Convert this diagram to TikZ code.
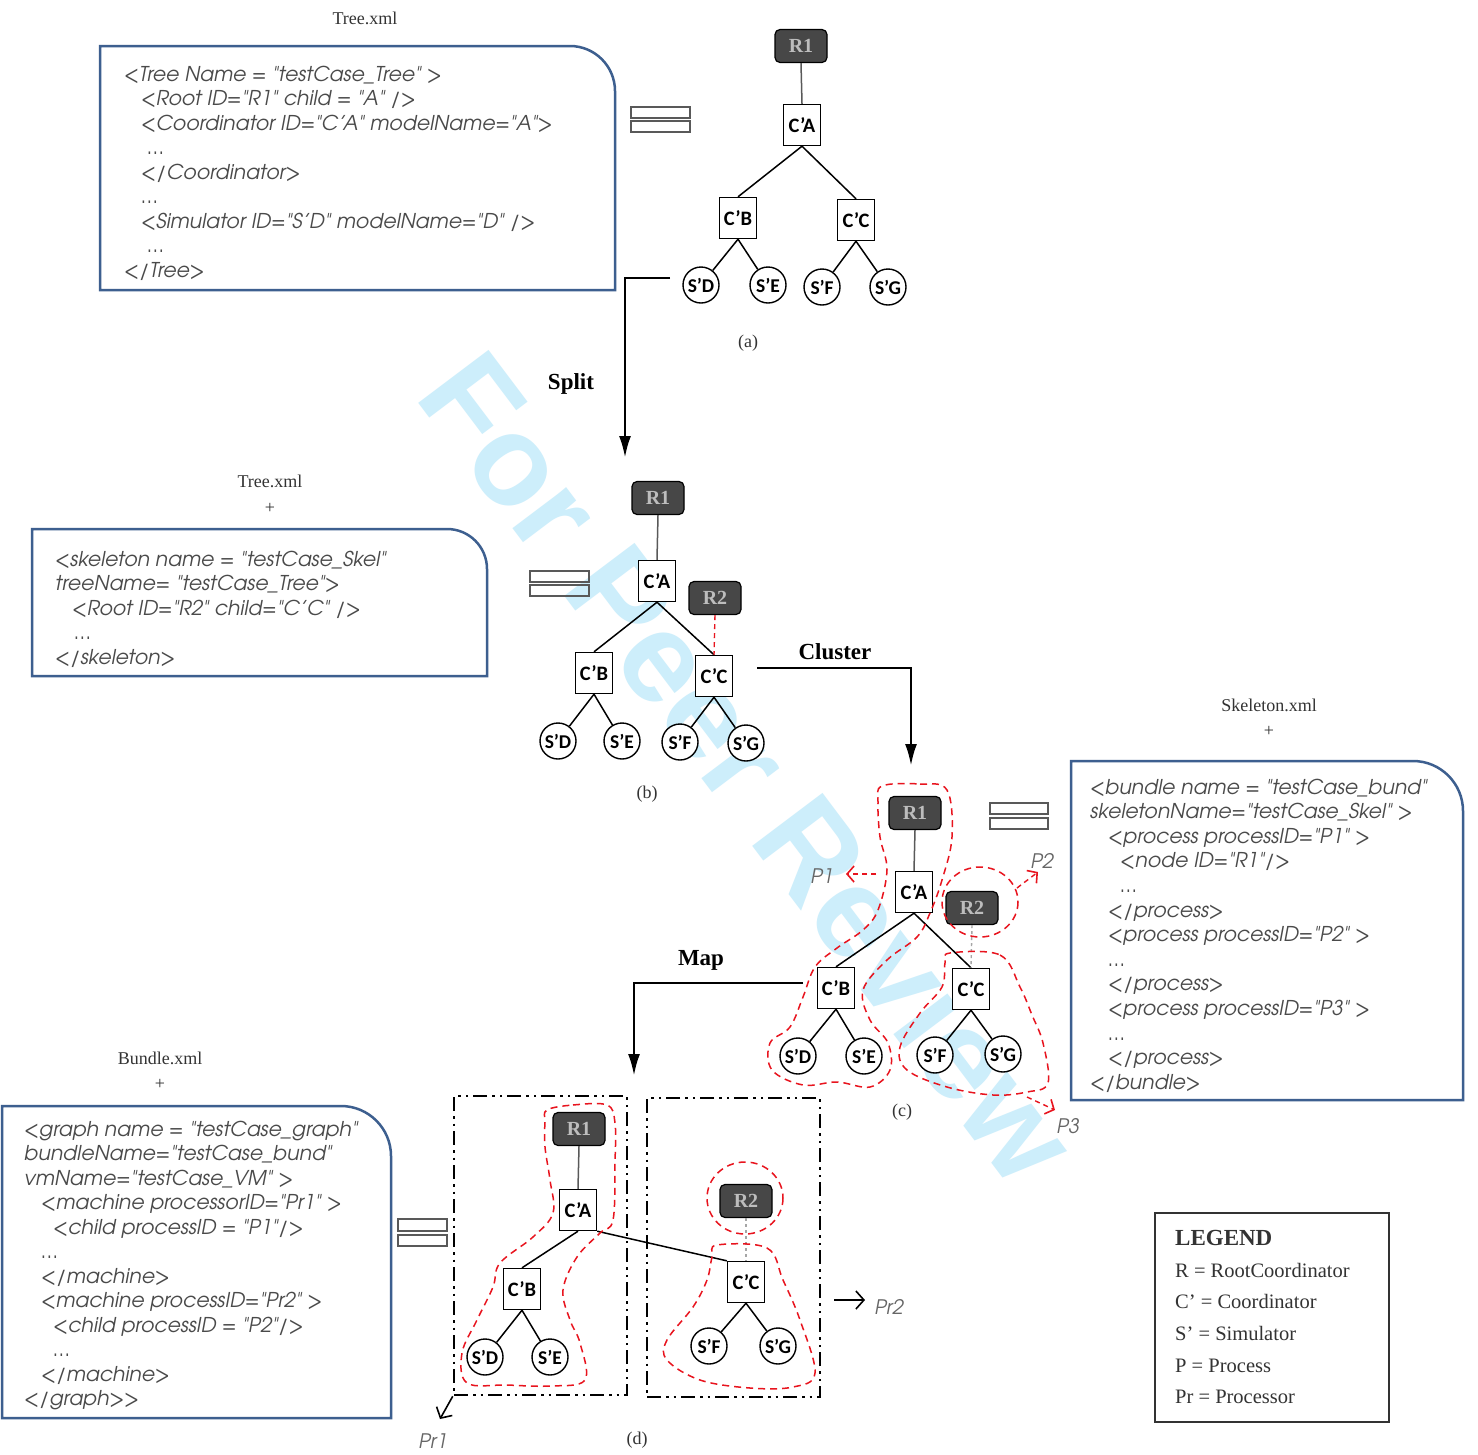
\documentclass[tikz,border=0pt]{standalone}
\usepackage{fontspec}
\setmainfont{Liberation Serif}
\newfontfamily\codefont{texgyreadventor}[Extension=.otf, UprightFont=*-regular, ItalicFont=*-italic, BoldFont=*-bold, BoldItalicFont=*-bolditalic]
\newfontfamily\nodefont{Carlito}
\newfontfamily\wmfont{Liberation Sans}
\usetikzlibrary{arrows.meta}
\definecolor{boxblue}{HTML}{3D5F8F}
\definecolor{codegray}{HTML}{4A4A4A}
\definecolor{rootfill}{HTML}{474747}
\definecolor{roottext}{HTML}{BDBDBD}
\definecolor{wmcol}{HTML}{CDEEFB}
\definecolor{pred}{HTML}{E8141E}
\definecolor{plabel}{HTML}{666666}
\definecolor{labgray}{HTML}{333333}
\newcount\clcount
\newcommand\codeln[3]{\global\advance\clcount by 1\relax
  \node[codetxt, anchor=base west] (cl\the\clcount) at (#1,#2) {#3};}
\tikzset{
  rootnode/.style={draw=black, fill=rootfill, rounded corners=5pt, minimum width=52pt, minimum height=33pt, inner sep=0pt, font=\fontsize{20}{20}\selectfont\bfseries, text=roottext, line width=1.2pt},
  coordnode/.style={draw=black, fill=white, minimum width=37pt, minimum height=41pt, inner sep=0pt, font=\nodefont\fontsize{20.5}{20.5}\selectfont\bfseries, line width=1.4pt},
  simnode/.style={circle, draw=black, fill=white, minimum size=36pt, inner sep=0pt, font=\nodefont\fontsize{19.5}{19.5}\selectfont\bfseries, line width=1.4pt},
  treeedge/.style={line width=1.5pt},
  rootedge/.style={line width=1.5pt, draw=black!65},
  gdash/.style={line width=1.4pt, draw=black!35, dashed},
  rdash/.style={line width=1.4pt, draw=pred, dash pattern=on 5pt off 4pt},
  blob/.style={line width=1.5pt, draw=pred, dash pattern=on 7pt off 5pt},
  codebox/.style={line width=2.5pt, draw=boxblue},
  codetxt/.style={inner sep=0pt, text=codegray, font=\codefont\itshape\fontsize{20.4}{20.4}\selectfont},
  serlab/.style={inner sep=0pt, text=labgray, font=\fontsize{18}{18}\selectfont},
  oplab/.style={inner sep=0pt, font=\fontsize{23}{23}\selectfont\bfseries},
  plab/.style={inner sep=0pt, text=plabel, font=\codefont\itshape\fontsize{20}{20}\selectfont},
  eqbar/.style={line width=1.6pt, draw=black!65},
  bigarrow/.style={line width=2.8pt, -{Latex[length=22pt,width=12pt]}},
  openarrow/.style={line width=1.6pt, -{Straight Barb[length=8pt,width=18pt,line width=1.6pt]}},
  procbox/.style={draw=black, line width=2.5pt, dash pattern=on 14pt off 5pt on 2.5pt off 5pt on 2.5pt off 5pt, inner sep=0pt},
  legtxt/.style={inner sep=0pt, anchor=base west, text=labgray, font=\fontsize{20.5}{20.5}\selectfont}
}
\begin{document}
\begin{tikzpicture}[x=1pt,y=-1pt]
\useasboundingbox (0,0) rectangle (1478,1454);
\fill[white] (0,0) rectangle (1478,1454);

% watermark
\node[rotate=-53, text=wmcol, inner sep=0pt, font=\wmfont\bfseries\fontsize{128}{128}\selectfont] (wmark) at (750,767) {For Peer Review};

% ---------- code box 1 ----------
\node[serlab] (lab-tree1) at (365,18) {Tree.xml};
\draw[codebox] (100,290) -- (100,46) -- (570,46) .. controls (594.8,46) and (615,66.2) .. (615,91) -- (615,290) -- cycle;
\codeln{124}{81}{<Tree Name = "testCase\_Tree" >}
\codeln{141}{105.5}{<Root ID="R1" child = "A" />}
\codeln{141}{130}{<Coordinator ID="C’A" modelName="A">}
\codeln{147}{154.5}{…}
\codeln{141}{179}{</Coordinator>}
\codeln{141}{203.5}{…}
\codeln{141}{228}{<Simulator ID="S’D" modelName="D" />}
\codeln{147}{252.5}{…}
\codeln{124}{277}{</Tree>}
\draw[eqbar] (631,107) rectangle (690,118);
\draw[eqbar] (631,121) rectangle (690,132);

% ---------- tree (a) ----------
\node[rootnode] (a-r1) at (801,46) {R1};
\node[coordnode] (a-ca) at (802,125) {C’A};
\node[coordnode] (a-cb) at (738,218) {C’B};
\node[coordnode] (a-cc) at (856,220) {C’C};
\node[simnode] (a-sd) at (701,285) {S’D};
\node[simnode] (a-se) at (768,285) {S’E};
\node[simnode] (a-sf) at (822,287) {S’F};
\node[simnode] (a-sg) at (888,287) {S’G};
\draw[rootedge] (a-r1.south) -- (a-ca.north);
\draw[treeedge] (a-ca.south) -- (a-cb.north);
\draw[treeedge] (a-ca.south) -- (a-cc.north);
\draw[treeedge] (a-cb.south) -- (a-sd);
\draw[treeedge] (a-cb.south) -- (a-se);
\draw[treeedge] (a-cc.south) -- (a-sf);
\draw[treeedge] (a-cc.south) -- (a-sg);
\node[serlab] (lab-a) at (748,343) {(a)};

% Split
\coordinate (splitA) at (670,278);
\coordinate (splitB) at (625,458);
\draw[bigarrow] (splitA) -| (splitB);
\node[oplab] (lab-split) at (571,384) {Split};

% ---------- code box 2 ----------
\node[serlab] (lab-tree2) at (270,481) {Tree.xml};
\node[serlab] (lab-plus2) at (270,508) {+};
\draw[codebox] (32,676) -- (32,529) -- (447,529) .. controls (469.1,529) and (487,546.9) .. (487,569) -- (487,676) -- cycle;
\codeln{55}{566}{<skeleton name = "testCase\_Skel"}
\codeln{55}{590.5}{treeName= "testCase\_Tree">}
\codeln{72}{615}{<Root ID="R2" child="C’C" />}
\codeln{74}{639.5}{…}
\codeln{55}{664}{</skeleton>}
\draw[eqbar] (530,571) rectangle (589,582);
\draw[eqbar] (530,585) rectangle (589,596);

% ---------- tree (b) ----------
\node[rootnode] (b-r1) at (658,498) {R1};
\node[coordnode] (b-ca) at (657,581) {C’A};
\node[rootnode] (b-r2) at (715,598) {R2};
\node[coordnode] (b-cb) at (594,673) {C’B};
\node[coordnode] (b-cc) at (714,676) {C’C};
\node[simnode] (b-sd) at (558,741) {S’D};
\node[simnode] (b-se) at (622,741) {S’E};
\node[simnode] (b-sf) at (680,742) {S’F};
\node[simnode] (b-sg) at (746,743) {S’G};
\draw[rootedge] (b-r1.south) -- (b-ca.north);
\draw[treeedge] (b-ca.south) -- (b-cb.north);
\draw[treeedge] (b-ca.south) -- (b-cc.north);
\draw[treeedge] (b-cb.south) -- (b-sd);
\draw[treeedge] (b-cb.south) -- (b-se);
\draw[treeedge] (b-cc.south) -- (b-sf);
\draw[treeedge] (b-cc.south) -- (b-sg);
\draw[rdash] (b-r2.south) -- (b-cc.north);
\node[serlab] (lab-b) at (647,794) {(b)};

% Cluster
\coordinate (clA) at (757,668);
\coordinate (clB) at (911,766);
\draw[bigarrow] (clA) -| (clB);
\node[oplab] (lab-cluster) at (835,652) {Cluster};

% ---------- code box 3 ----------
\node[serlab] (lab-skel) at (1269,705) {Skeleton.xml};
\node[serlab] (lab-plus3) at (1269,731) {+};
\draw[codebox] (1071,1100) -- (1071,761) -- (1413,761) .. controls (1440.6,761) and (1463,783.4) .. (1463,811) -- (1463,1100) -- cycle;
\codeln{1090}{794}{<bundle name = "testCase\_bund"}
\codeln{1090}{818.6}{skeletonName="testCase\_Skel" >}
\codeln{1108}{843.2}{<process processID="P1" >}
\codeln{1120}{867.8}{<node ID="R1"/>}
\codeln{1120}{892.4}{…}
\codeln{1108}{917}{</process>}
\codeln{1108}{941.6}{<process processID="P2" >}
\codeln{1108}{966.2}{…}
\codeln{1108}{990.8}{</process>}
\codeln{1108}{1015.4}{<process processID="P3" >}
\codeln{1108}{1040}{…}
\codeln{1108}{1064.6}{</process>}
\codeln{1090}{1089.2}{</bundle>}
\draw[eqbar] (990,803) rectangle (1048,814);
\draw[eqbar] (990,818) rectangle (1048,829);

% ---------- tree (c) ----------
\node[rootnode] (c-r1) at (915,813) {R1};
\node[coordnode] (c-ca) at (914,892) {C’A};
\node[rootnode] (c-r2) at (972,908) {R2};
\node[coordnode] (c-cb) at (836,988) {C’B};
\node[coordnode] (c-cc) at (971,989) {C’C};
\node[simnode] (c-sd) at (798,1056) {S’D};
\node[simnode] (c-se) at (864,1056) {S’E};
\node[simnode] (c-sf) at (935,1055) {S’F};
\node[simnode] (c-sg) at (1003,1054) {S’G};
\draw[rootedge] (c-r1.south) -- (c-ca.north);
\draw[treeedge] (c-ca.south) -- (c-cb.north);
\draw[treeedge] (c-ca.south) -- (c-cc.north);
\draw[treeedge] (c-cb.south) -- (c-sd);
\draw[treeedge] (c-cb.south) -- (c-se);
\draw[treeedge] (c-cc.south) -- (c-sf);
\draw[treeedge] (c-cc.south) -- (c-sg);
\draw[gdash] (c-r2.south) -- (c-cc.north);
\node[serlab] (lab-c) at (902,1112) {(c)};
% process blobs (c)
\draw[blob] plot[smooth cycle, tension=0.6] coordinates {(882,786) (920,784) (947,790) (952,837) (942,880) (930,913) (917,937) (887,960) (863,990) (870,1020) (888,1043) (890,1070) (870,1087) (837,1082) (803,1085) (772,1070) (770,1043) (790,1027) (803,997) (815,967) (837,948) (863,930) (878,910) (887,870) (880,837) (878,803)};
\draw[blob] (980,902) ellipse [x radius=38, y radius=35];
\draw[blob] plot[smooth cycle, tension=0.6] coordinates {(950,953) (1000,955) (1020,987) (1032,1015) (1043,1043) (1048,1083) (1027,1092) (993,1095) (947,1087) (907,1070) (900,1047) (920,1013) (942,987) (945,963)};
\coordinate (p1s) at (876,874);
\coordinate (p1e) at (846,874);
\draw[rdash, -{Straight Barb[length=7pt,width=16pt,line width=1.6pt]}] (p1s) -- (p1e);
\node[plab] (lab-p1) at (822,876) {P1};
\coordinate (p2s) at (1017,888);
\coordinate (p2e) at (1038,872);
\draw[rdash, -{Straight Barb[length=7pt,width=16pt,line width=1.6pt]}] (p2s) -- (p2e);
\node[plab] (lab-p2) at (1042,861) {P2};
\coordinate (p3s) at (1027,1097);
\coordinate (p3e) at (1055,1110);
\draw[rdash, -{Straight Barb[length=7pt,width=16pt,line width=1.6pt]}] (p3s) -- (p3e);
\node[plab] (lab-p3) at (1068,1126) {P3};

% Map
\coordinate (mapA) at (803,983);
\coordinate (mapB) at (634,1076);
\draw[bigarrow] (mapA) -| (mapB);
\node[oplab] (lab-map) at (701,960) {Map};

% ---------- code box 4 ----------
\node[serlab] (lab-bund) at (160,1058) {Bundle.xml};
\node[serlab] (lab-plus4) at (160,1084) {+};
\draw[codebox] (2,1418) -- (2,1106) -- (341,1106) .. controls (368.6,1106) and (391,1128.4) .. (391,1156) -- (391,1418) -- cycle;
\codeln{24}{1136}{<graph name = "testCase\_graph"}
\codeln{24}{1160.5}{bundleName="testCase\_bund"}
\codeln{24}{1185}{vmName="testCase\_VM" >}
\codeln{41}{1209.5}{<machine processorID="Pr1" >}
\codeln{53}{1234}{<child processID = "P1"/>}
\codeln{41}{1258.5}{…}
\codeln{41}{1283}{</machine>}
\codeln{41}{1307.5}{<machine processID="Pr2" >}
\codeln{53}{1332}{<child processID = "P2"/>}
\codeln{53}{1356.5}{…}
\codeln{41}{1381}{</machine>}
\codeln{24}{1405.5}{</graph>>}
\draw[eqbar] (398,1219) rectangle (447,1231);
\draw[eqbar] (398,1235) rectangle (447,1246);

% ---------- (d) ----------
\node[procbox, minimum width=173pt, minimum height=299pt] (pr1box) at (540.5,1245.5) {};
\node[procbox, minimum width=173pt, minimum height=299pt] (pr2box) at (733.5,1247.5) {};
\node[rootnode] (d-r1) at (579,1129) {R1};
\node[coordnode] (d-ca) at (578,1210) {C’A};
\node[rootnode] (d-r2) at (746,1201) {R2};
\node[coordnode] (d-cb) at (522,1289) {C’B};
\node[coordnode] (d-cc) at (746,1282) {C’C};
\node[simnode] (d-sd) at (485,1357) {S’D};
\node[simnode] (d-se) at (550,1357) {S’E};
\node[simnode] (d-sf) at (709,1346) {S’F};
\node[simnode] (d-sg) at (778,1346) {S’G};
\draw[rootedge] (d-r1.south) -- (d-ca.north);
\draw[treeedge] (d-ca.south) -- (d-cb.north);
\draw[treeedge] (d-ca.south east) -- (d-cc.north west);
\draw[treeedge] (d-cb.south) -- (d-sd);
\draw[treeedge] (d-cb.south) -- (d-se);
\draw[treeedge] (d-cc.south) -- (d-sf);
\draw[treeedge] (d-cc.south) -- (d-sg);
\draw[gdash] (d-r2.south) -- (d-cc.north);
\draw[blob] plot[smooth cycle, tension=0.6] coordinates {(547,1110) (573,1105) (607,1105) (615,1123) (615,1163) (613,1220) (600,1233) (577,1257) (563,1290) (570,1320) (580,1343) (585,1380) (550,1386) (507,1385) (467,1383) (462,1353) (477,1320) (493,1287) (500,1263) (533,1237) (553,1213) (550,1180) (545,1147) (545,1122)};
\draw[blob] (745,1198) ellipse [x radius=38, y radius=36];
\draw[blob] plot[smooth cycle, tension=0.6] coordinates {(717,1245) (767,1248) (783,1280) (800,1320) (815,1373) (793,1387) (750,1388) (700,1380) (667,1360) (667,1340) (693,1307) (707,1280) (712,1257)};
\coordinate (pr1e) at (440,1419);
\draw[openarrow] (pr1box.south west) -- (pr1e);
\node[plab] (lab-pr1) at (433,1441) {Pr1};
\coordinate (pr2s) at (834,1300);
\coordinate (pr2e) at (865,1300);
\draw[openarrow] (pr2s) -- (pr2e);
\node[plab] (lab-pr2) at (889,1307) {Pr2};
\node[serlab] (lab-d) at (637,1440) {(d)};

% ---------- legend ----------
\node[draw=black!80, line width=1.3pt, minimum width=234pt, minimum height=209pt, inner sep=0pt] (legend) at (1272,1317.5) {};
\node[legtxt, font=\fontsize{23}{23}\selectfont\bfseries] (leg0) at (1175,1245) {LEGEND};
\node[legtxt] (leg1) at (1175,1277) {R = RootCoordinator};
\node[legtxt] (leg2) at (1175,1308) {C’ = Coordinator};
\node[legtxt] (leg3) at (1175,1340) {S’ = Simulator};
\node[legtxt] (leg4) at (1175,1372) {P = Process};
\node[legtxt] (leg5) at (1175,1403) {Pr = Processor};
\end{tikzpicture}
\end{document}
